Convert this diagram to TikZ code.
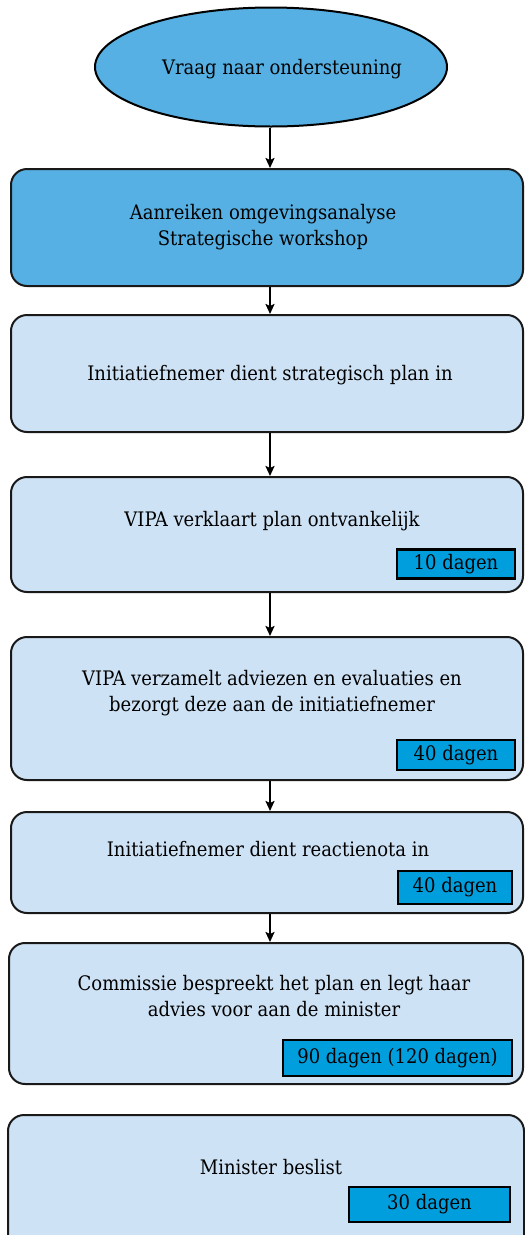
\documentclass[tikz,border=0pt]{standalone}
\usepackage{fontspec}
\setmainfont{DejaVu Serif Condensed}
\usetikzlibrary{shapes.geometric,arrows.meta,calc}
\definecolor{darkfill}{RGB}{86,176,227}
\definecolor{lightfill}{RGB}{206,226,245}
\definecolor{dayfill}{RGB}{0,158,220}
\begin{document}
\begin{tikzpicture}[x=1pt,y=-1pt,
  txt/.style={font=\fontsize{20}{26.5}\selectfont, align=center, inner sep=0pt},
  stepbox/.style={draw=black!90, line width=2pt, rounded corners=16pt, fill=lightfill, inner sep=0pt},
  darkbox/.style={stepbox, fill=darkfill},
  daybox/.style={draw=black, line width=2.6pt, fill=dayfill, inner sep=0pt, font=\fontsize{20}{22}\selectfont},
  arrow/.style={line width=2pt, -{Stealth[length=10pt,width=9pt,inset=2pt]}}]
\useasboundingbox (0,0) rectangle (525,1235);
% start ellipse
\node[ellipse, draw=black, line width=2pt, fill=darkfill, minimum width=352pt, minimum height=119pt, inner sep=0pt] (start) at (271,67) {};
\node[txt] (tstart) at (282,69) {Vraag naar ondersteuning};
% boxes
\node[darkbox, minimum width=512pt, minimum height=117pt] (b1) at (267,227.5) {};
\node[txt] (t1) at (263,227) {Aanreiken omgevingsanalyse\\Strategische workshop};
\node[stepbox, minimum width=512pt, minimum height=117pt] (b2) at (267,373.5) {};
\node[txt] (t2) at (270,375) {Initiatiefnemer dient strategisch plan in};
\node[stepbox, minimum width=512pt, minimum height=115pt] (b3) at (267,534.5) {};
\node[txt] (t3) at (272,521) {VIPA verklaart plan ontvankelijk};
\node[daybox, minimum width=118pt, minimum height=29pt] (d3) at (456,564) {10 dagen};
\node[stepbox, minimum width=512pt, minimum height=143pt] (b4) at (267,708.5) {};
\node[txt] (t4) at (272,693) {VIPA verzamelt adviezen en evaluaties en\\bezorgt deze aan de initiatiefnemer};
\node[daybox, minimum width=118pt, minimum height=30pt] (d4) at (456,755) {40 dagen};
\node[stepbox, minimum width=512pt, minimum height=101pt] (b5) at (267,862.5) {};
\node[txt] (t5) at (268,849) {Initiatiefnemer dient reactienota in};
\node[daybox, minimum width=114pt, minimum height=33pt] (d5) at (455,887.5) {40 dagen};
\node[stepbox, minimum width=514pt, minimum height=141pt] (b6) at (266,1013.5) {};
\node[txt] (t6) at (274,996) {Commissie bespreekt het plan en legt haar\\advies voor aan de minister};
\node[daybox, minimum width=229pt, minimum height=36pt] (d6) at (397.5,1058) {90 dagen (120 dagen)};
\node[stepbox, minimum width=516pt, minimum height=140pt] (b7) at (266,1185) {};
\node[txt] (t7) at (271,1167) {Minister beslist};
\node[daybox, minimum width=161pt, minimum height=35pt] (d7) at (429.5,1204.5) {30 dagen};
% connectors
\coordinate (ax) at (270,0);
\draw[arrow] (start.south -| ax) -- (b1.north -| ax);
\draw[arrow] (b1.south -| ax) -- (b2.north -| ax);
\draw[arrow] (b2.south -| ax) -- (b3.north -| ax);
\draw[arrow] (b3.south -| ax) -- (b4.north -| ax);
\draw[arrow] (b4.south -| ax) -- (b5.north -| ax);
\draw[arrow] (b5.south -| ax) -- (b6.north -| ax);
\end{tikzpicture}
\end{document}
